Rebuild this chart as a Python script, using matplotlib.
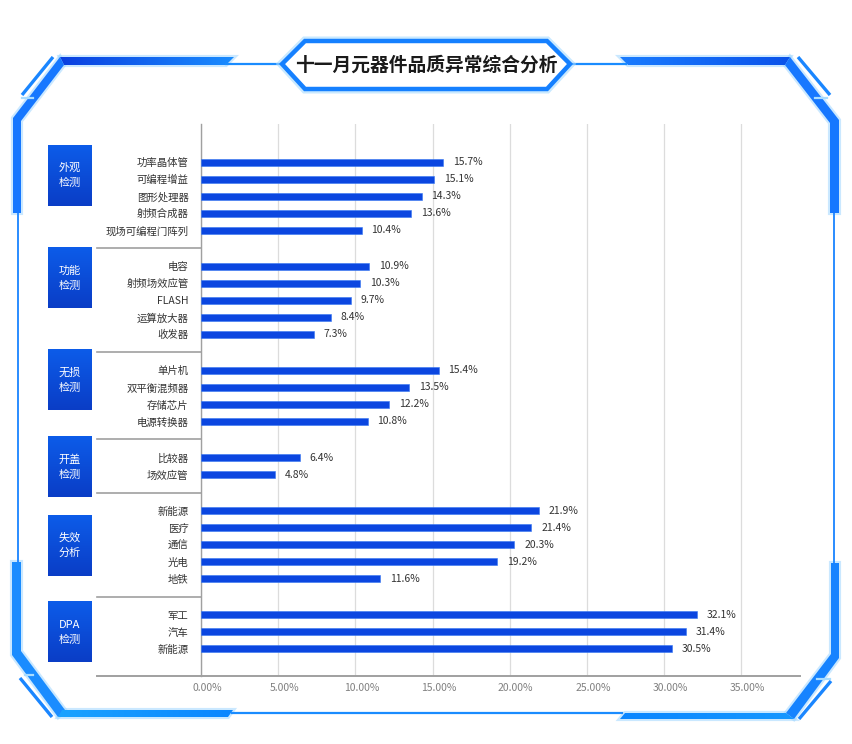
import numpy as np
import matplotlib.pyplot as plt
from matplotlib.patches import Polygon
from matplotlib.colors import LinearSegmentedColormap
from matplotlib.transforms import ScaledTranslation, blended_transform_factory

plt.rcParams['font.family'] = ['Noto Sans CJK SC', 'DejaVu Sans']

# --- Daten ---
title = '十一月元器件品质异常综合分析'
group_names = ['外观\n检测', '功能\n检测', '无损\n检测', '开盖\n检测', '失效\n分析', 'DPA\n检测']
items_1 = ['功率晶体管', '可编程增益', '图形处理器', '射频合成器', '现场可编程门阵列']
vals_1 = [15.7, 15.1, 14.3, 13.6, 10.4]
items_2 = ['电容', '射频场效应管', 'FLASH', '运算放大器', '收发器']
vals_2 = [10.9, 10.3, 9.7, 8.4, 7.3]
items_3 = ['单片机', '双平衡混频器', '存储芯片', '电源转换器']
vals_3 = [15.4, 13.5, 12.2, 10.8]
items_4 = ['比较器', '场效应管']
vals_4 = [6.4, 4.8]
items_5 = ['新能源', '医疗', '通信', '光电', '地铁']
vals_5 = [21.9, 21.4, 20.3, 19.2, 11.6]
items_6 = ['军工', '汽车', '新能源']
vals_6 = [32.1, 31.4, 30.5]
x_ticks = [0, 5, 10, 15, 20, 25, 30, 35]

group_items = [items_1, items_2, items_3, items_4, items_5, items_6]
group_vals = [vals_1, vals_2, vals_3, vals_4, vals_5, vals_6]

W, H = 852, 744
fig = plt.figure(figsize=(W / 100, H / 100), dpi=100)
bg = fig.add_axes([0, 0, 1, 1], zorder=0)
ax = fig.add_axes([201 / W, 68 / H, 599 / W, 552 / H], zorder=1)
ax.patch.set_alpha(0)

# Zeilenpositionen: innerhalb der Gruppe Abstand 1, zwischen Gruppen etwas mehr
gap = 2.12
ypos, labels, values, firsts, lasts = [], [], [], [], []
cur = 0.0
for items, vals in zip(group_items, group_vals):
    firsts.append(cur)
    for i, (it, v) in enumerate(zip(items, vals)):
        ypos.append(cur + i)
        labels.append(it)
        values.append(v)
    lasts.append(cur + len(items) - 1)
    cur += len(items) - 1 + gap

ax.barh(ypos, values, height=0.42, color='#0b46e0', edgecolor='#3576f2', linewidth=0.4, zorder=3)
for y, v in zip(ypos, values):
    ax.annotate(f'{v:.1f}%', (v, y), xytext=(7, 0), textcoords='offset points',
                va='center', ha='left', fontsize=7.5, color='#333333')

ax.set_xlim(0, 38.8)
ax.set_ylim(lasts[-1] + 1.6, -2.24)
ax.set_xticks(x_ticks, [f'{t:.2f}%' for t in x_ticks])
ax.set_yticks(ypos, labels)
ax.tick_params(axis='y', length=0, pad=9, labelsize=7.5, labelcolor='#333333')
ax.tick_params(axis='x', length=0, pad=5, labelsize=7.5, labelcolor='#808080')
shift = ScaledTranslation(6 / 100, 0, fig.dpi_scale_trans)
for lab in ax.get_xticklabels():
    lab.set_transform(lab.get_transform() + shift)
ax.grid(axis='x', color='#dcdcdc', linewidth=0.9)
ax.set_axisbelow(True)
for s in ['top', 'right', 'bottom']:
    ax.spines[s].set_visible(False)
ax.spines['left'].set_color('#a0a0a0')
ax.spines['left'].set_linewidth(1.0)

# Trennlinien zwischen den Gruppen + Grundlinie
blend = blended_transform_factory(ax.transAxes, ax.transData)
for a, b in zip(lasts[:-1], firsts[1:]):
    ym = (a + b) / 2
    ax.plot([-0.174, 0], [ym, ym], transform=blend, color='#a0a0a0', lw=1.2, clip_on=False)
ax.plot([-0.174, 1], [0, 0], transform=ax.transAxes, color='#a0a0a0', lw=1.4, clip_on=False)

# --- Hintergrund / Rahmen (Pixelkoordinaten) ---
bg.set_xlim(0, W)
bg.set_ylim(H, 0)
bg.axis('off')


def grad_poly(pts, c1, c2, vertical=False, z=2):
    poly = Polygon(pts, closed=True, fc='none', ec='none')
    bg.add_patch(poly)
    xs = [p[0] for p in pts]
    ys = [p[1] for p in pts]
    cmap = LinearSegmentedColormap.from_list('g', [c1, c2])
    g = np.linspace(0, 1, 256)
    g = g.reshape(-1, 1) if vertical else g.reshape(1, -1)
    im = bg.imshow(g, cmap=cmap, extent=(min(xs), max(xs), max(ys), min(ys)),
                   aspect='auto', zorder=z, interpolation='bilinear')
    im.set_clip_path(poly)
    return im


def glow_poly(pts, color='#1677ff'):
    bg.add_patch(Polygon(pts, closed=True, fc='none', ec='#9fd6ff', lw=3.0, alpha=0.55, zorder=1))
    bg.add_patch(Polygon(pts, closed=True, fc=color, ec='none', zorder=2))


# obere Balken
top_left = [(60, 57), (234, 57), (226, 65), (64, 65)]
top_right = [(620, 57), (790, 57), (785, 65), (628, 65)]
bg.add_patch(Polygon(top_left, closed=True, fc='none', ec='#9fd6ff', lw=3, alpha=0.55, zorder=1))
bg.add_patch(Polygon(top_right, closed=True, fc='none', ec='#9fd6ff', lw=3, alpha=0.55, zorder=1))
grad_poly(top_left, '#0a3fe0', '#1a8cff')
grad_poly(top_right, '#1a7cff', '#0a52ea')

# Diagonalen + senkrechte Kanten
glow_poly([(60, 57), (13, 118), (13, 213), (21, 213), (21, 121), (64, 65)])
glow_poly([(790, 57), (839, 120), (839, 213), (830, 213), (830, 123), (785, 65)])
glow_poly([(12, 562), (21, 562), (21, 651), (65, 710), (58, 717), (12, 655)], '#1a8cff')
glow_poly([(831, 563), (839, 563), (839, 658), (794, 719), (786, 713), (831, 654)], '#1683ff')

# untere Balken
bot_left = [(62, 710), (233, 710), (228, 717), (58, 717)]
bot_right = [(625, 713), (786, 713), (794, 719), (620, 719)]
bg.add_patch(Polygon(bot_left, closed=True, fc='none', ec='#9fd6ff', lw=3, alpha=0.55, zorder=1))
bg.add_patch(Polygon(bot_right, closed=True, fc='none', ec='#9fd6ff', lw=3, alpha=0.55, zorder=1))
grad_poly(bot_left, '#1aa3ff', '#0a86ff')
grad_poly(bot_right, '#0a86ff', '#1698ff')

# dünne Verbindungslinien
thin = dict(color='#2a8cff', lw=1.4, solid_capstyle='butt', zorder=2)
bg.plot([18, 18], [213, 562], **thin)
bg.plot([834, 834], [213, 563], **thin)
bg.plot([232, 622], [713, 713], color='#1a8cff', lw=1.6, zorder=2)
bg.plot([226, 282], [63.5, 63.5], color='#1a8cff', lw=1.6, zorder=2)
bg.plot([570, 626], [63.5, 63.5], color='#1a8cff', lw=1.6, zorder=2)

# äußere dünne Diagonalen
diag = dict(color='#1a86ff', lw=2.4, solid_capstyle='butt', zorder=2)
bg.plot([53, 22], [57, 95], **diag)
bg.plot([798, 830], [57, 95], **diag)
bg.plot([20, 52], [678, 717], **diag)
bg.plot([831, 799], [681, 719], **diag)
tick = dict(color='#a8dcff', lw=1.6, zorder=2)
bg.plot([22, 33], [98, 98], **tick)
bg.plot([815, 827], [98, 98], **tick)
bg.plot([25, 33], [675, 675], **tick)
bg.plot([817, 830], [679, 679], **tick)

# Titel-Sechseck
hexa = [(282, 64), (305, 41), (547, 41), (570, 64), (547, 89), (305, 89)]
bg.add_patch(Polygon(hexa, closed=True, fc='none', ec='#a6dbff', lw=6.5, alpha=0.6, zorder=2))
bg.add_patch(Polygon(hexa, closed=True, fc='white', ec='#1580ff', lw=3.2, joinstyle='miter', zorder=3))
bg.text(426, 65, title, ha='center', va='center', fontsize=13.5, fontweight='bold',
        color='#1a1a1a', zorder=4)

# Gruppenkästen links (Position über die Achsentransformation)
box_shift = [-1.21, -1.3, -0.92, 0.08, 0.05, 0.02]
box_h = 3.53
for name, f, l, sh in zip(group_names, firsts, lasts, box_shift):
    yc = (f + l) / 2 + sh
    x0, y0 = ax.transAxes.transform((-0.2554, 0))[0], ax.transData.transform((0, yc - box_h / 2))[1]
    x1, y1 = ax.transAxes.transform((-0.1836, 0))[0], ax.transData.transform((0, yc + box_h / 2))[1]
    top_px, bot_px = H - y0, H - y1
    g = np.linspace(0, 1, 64).reshape(-1, 1)
    cmap = LinearSegmentedColormap.from_list('b', ['#0d5ce9', '#0a3dc6'])
    bg.imshow(g, cmap=cmap, extent=(x0, x1, bot_px, top_px), aspect='auto', zorder=3)
    bg.text((x0 + x1) / 2, (top_px + bot_px) / 2, name, ha='center', va='center',
            fontsize=8, color='white', linespacing=1.6, zorder=4)

bg.set_xlim(0, W)
bg.set_ylim(H, 0)

fig.savefig('out.png', dpi=100, facecolor='white')
